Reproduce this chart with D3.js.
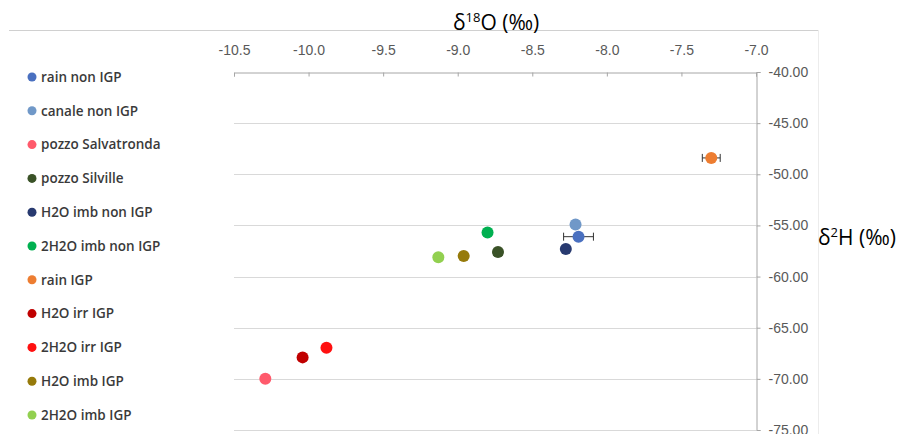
<!DOCTYPE html>
<html><head><meta charset="utf-8">
<script src="https://cdn.jsdelivr.net/npm/d3@7"></script>
<style>
html,body{margin:0;padding:0;background:#fff;}
svg{display:block;font-family:"Open Sans",Lato,sans-serif;}
</style></head>
<body>
<svg id="c" width="899" height="434"></svg>
<script>
const series = ["rain non IGP","canale non IGP","pozzo Salvatronda","pozzo Silville","H2O imb non IGP","2H2O imb non IGP","rain IGP","H2O irr IGP","2H2O irr IGP","H2O imb IGP","2H2O imb IGP"];
const colors = ["#4a70c0","#7098c8","#ff5a6c","#3a5227","#283a70","#00b050","#ed7d31","#c00000","#ff1010","#967a0a","#92d050"];
const d18O = [-8.19,-8.21,-10.29,-8.73,-8.275,-8.80,-7.30,-10.04,-9.88,-8.96,-9.13];
const d2H  = [-56.1,-54.9,-70.0,-57.6,-57.3,-55.7,-48.4,-67.9,-66.95,-58.0,-58.1];
const xErr = [0.10,0,0,0,0,0,0.06,0,0,0,0];
const xTicks = [-10.5,-10.0,-9.5,-9.0,-8.5,-8.0,-7.5,-7.0];
const yTicks = [-40,-45,-50,-55,-60,-65,-70,-75];
// draw order (front-most last)
const drawOrder = [6,1,0,4,3,5,9,10,2,7,8];

const svg = d3.select("#c");
const x = d3.scaleLinear().domain([-10.5,-7]).range([234,756]);
const y = d3.scaleLinear().domain([-40,-75]).range([72,430]);

// chart area border
svg.append("line").attr("x1",9).attr("x2",818).attr("y1",30.5).attr("y2",30.5).attr("stroke","#d0d0d0");
svg.append("line").attr("x1",818.5).attr("x2",818.5).attr("y1",30).attr("y2",434).attr("stroke","#ececec");

// gridlines
svg.append("g").selectAll("line").data(yTicks.slice(1)).join("line")
  .attr("x1",x(-10.5)).attr("x2",x(-7)).attr("y1",d=>Math.round(y(d))+0.5).attr("y2",d=>Math.round(y(d))+0.5)
  .attr("stroke","#d9d9d9").attr("stroke-width",1);

// top x axis (ticks pointing down into plot)
const gx = svg.append("g").attr("transform",`translate(0,${Math.round(y(-40))+0.5})`)
  .call(d3.axisBottom(x).tickValues(xTicks).tickSize(4).tickFormat(d3.format(".1f")));
gx.select(".domain").attr("stroke","#a6a6a6");
gx.selectAll(".tick line").attr("stroke","#a6a6a6");
gx.selectAll(".tick text").attr("y",-22).attr("dy","0.32em").attr("fill","#595959")
  .style("font-size","14px").text(d=>d3.format(".1f")(d).replace("−","-"));

// right y axis
const gy = svg.append("g").attr("transform",`translate(${Math.round(x(-7))+0.5},0)`)
  .call(d3.axisRight(y).tickValues(yTicks).tickSize(4).tickFormat(d=>d.toFixed(2)));
gy.select(".domain").attr("stroke","#a6a6a6");
gy.selectAll(".tick line").attr("stroke","#a6a6a6");
gy.selectAll(".tick text").attr("x",12).attr("fill","#595959").style("font-size","14px");

// error bars
const eg = svg.append("g");
series.forEach((s,i)=>{
  if(xErr[i]>0){
    const cy = y(d2H[i]);
    const x1 = x(d18O[i]-xErr[i]), x2 = x(d18O[i]+xErr[i]);
    eg.append("line").attr("x1",x1).attr("x2",x2).attr("y1",cy).attr("y2",cy).attr("stroke","#333").attr("stroke-width",1);
    [x1,x2].forEach(xx=>eg.append("line").attr("x1",xx).attr("x2",xx).attr("y1",cy-4).attr("y2",cy+4).attr("stroke","#333").attr("stroke-width",1));
  }
});

// points
svg.append("g").selectAll("circle").data(drawOrder).join("circle")
  .attr("cx",i=>x(d18O[i])).attr("cy",i=>y(d2H[i])).attr("r",6)
  .attr("fill",i=>colors[i]);

// legend
const lg = svg.append("g");
series.forEach((s,i)=>{
  const yy = 77 + i*33.8;
  lg.append("circle").attr("cx",32).attr("cy",yy).attr("r",4.5).attr("fill",colors[i]);
  lg.append("text").attr("x",41).attr("y",yy).attr("dy","0.35em").attr("fill","#3a3a3a")
    .style("font-size","13.5px").style("font-weight","600").text(s);
});

// axis titles
const t1 = svg.append("text").attr("x",453).attr("y",30).attr("fill","#000").style("font-size","21px");
t1.append("tspan").text("δ");
t1.append("tspan").attr("dy",-8).style("font-size","13px").text("18");
t1.append("tspan").attr("dy",8).text("O (‰)");
const t2 = svg.append("text").attr("x",818).attr("y",245).attr("fill","#000").style("font-size","21px");
t2.append("tspan").text("δ");
t2.append("tspan").attr("dy",-8).style("font-size","13px").text("2");
t2.append("tspan").attr("dy",8).text("H (‰)");
</script>
</body></html>
